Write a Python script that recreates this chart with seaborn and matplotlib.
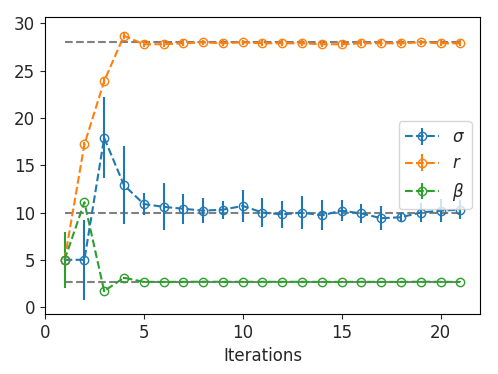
import matplotlib
matplotlib.use("Agg")
import matplotlib.pyplot as plt
import seaborn as sns
import numpy as np
import pandas as pd

# Parameter estimates per iteration (mean and spread)
iterations = list(range(1, 22))

sigma_mean = [5.0, 5.0, 17.9, 12.9, 10.9, 10.6, 10.4, 10.2, 10.3, 10.7, 10.0,
              9.8, 10.0, 9.7, 10.2, 9.9, 9.4, 9.5, 10.0, 10.2, 10.3]
sigma_err = [0.0, 4.2, 4.3, 4.1, 1.2, 2.5, 1.6, 1.3, 0.95, 1.7, 1.5,
             1.4, 1.7, 1.6, 1.1, 1.0, 1.3, 0.5, 1.0, 1.2, 1.0]

r_mean = [5.0, 17.2, 23.9, 28.7, 27.8, 27.8, 27.9, 28.0, 27.9, 28.0, 27.9,
          27.9, 27.9, 27.8, 27.8, 27.9, 27.9, 27.9, 28.0, 27.9, 27.9]
r_err = [0.0, 0.3, 0.3, 0.3, 0.3, 0.3, 0.3, 0.3, 0.3, 0.3, 0.3,
         0.3, 0.3, 0.3, 0.3, 0.3, 0.3, 0.3, 0.3, 0.3, 0.3]

beta_mean = [5.0, 11.1, 1.7, 3.1, 2.67, 2.66, 2.67, 2.68, 2.67, 2.67, 2.67,
             2.67, 2.67, 2.66, 2.66, 2.67, 2.66, 2.66, 2.68, 2.67, 2.66]
beta_err = [2.95, 0.0, 0.1, 0.1, 0.05, 0.05, 0.05, 0.05, 0.05, 0.05, 0.05,
            0.05, 0.05, 0.05, 0.05, 0.05, 0.05, 0.05, 0.05, 0.05, 0.05]

true_values = [28.0, 10.0, 8.0 / 3.0]

sns.set_style("ticks")
plt.rcParams['font.family'] = ['DejaVu Sans']
colors = sns.color_palette("tab10")

fig, ax = plt.subplots(figsize=(4.98, 3.74), dpi=100)
fig.subplots_adjust(left=0.09, right=0.964, top=0.955, bottom=0.16)

# reference lines for the true parameter values
for tv in true_values:
    ref = pd.DataFrame({"it": [iterations[0], iterations[-1]], "v": [tv, tv]})
    sns.lineplot(data=ref, x="it", y="v", ax=ax, color="gray", linestyle="--", linewidth=1.5)

series = [(sigma_mean, sigma_err, r"$\sigma$"),
          (r_mean, r_err, r"$r$"),
          (beta_mean, beta_err, r"$\beta$")]
for i, (m, e, lab) in enumerate(series):
    ax.errorbar(iterations, m, yerr=e, fmt="o--", color=colors[i], mfc="none",
                markersize=6, linewidth=1.5, label=lab)

ax.set_xlabel("Iterations", fontsize=12)
ax.set_ylabel("")
ax.set_xlim(0, 22)
ax.set_ylim(-0.75, 30.7)
ax.set_xticks([0, 5, 10, 15, 20])
ax.set_yticks([0, 5, 10, 15, 20, 25, 30])
ax.tick_params(labelsize=12, direction="out", length=3.5)
for sp in ax.spines.values():
    sp.set_color("black")
    sp.set_visible(True)
ax.legend(loc="center right", fontsize=12)

fig.savefig("out.png", dpi=100)
